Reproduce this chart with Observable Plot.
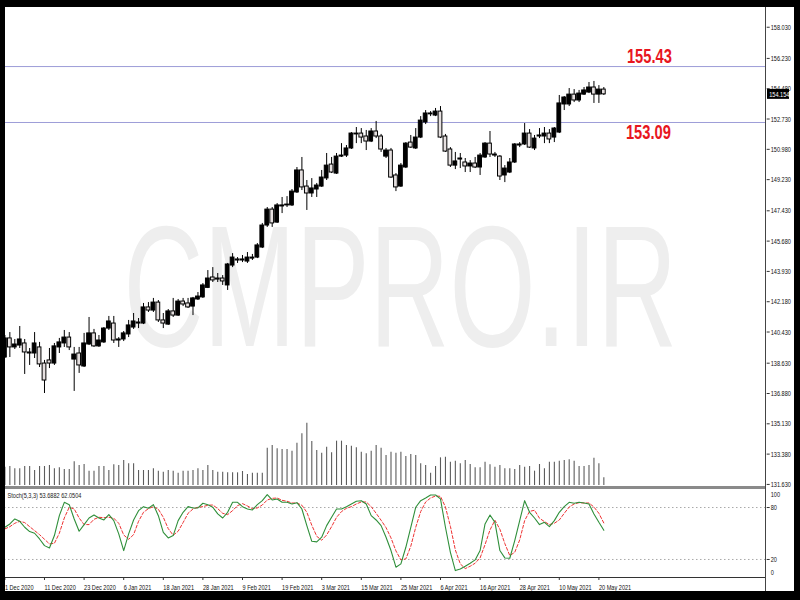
<!DOCTYPE html>
<html><head><meta charset="utf-8">
<script src="https://cdn.jsdelivr.net/npm/d3@7"></script>
<script src="https://cdn.jsdelivr.net/npm/@observablehq/plot@0.6"></script>
<style>
html,body{margin:0;padding:0;background:#000;}
#wrap{position:relative;width:800px;height:600px;background:#000;overflow:hidden;}
#inner{position:absolute;left:5px;top:7px;width:789px;height:584px;background:#fff;}
.layer{position:absolute;left:0;}
.chrome{position:absolute;}
</style></head><body>
<div id="wrap"><div id="inner"></div></div>
<script>
// ---- data (daily candles, 1 Dec 2020 .. 21 May 2021) ----
const open = [138.96,140.06,139.54,139.65,139.77,139.25,139.19,139.54,138.61,138.79,
138.61,139.54,139.77,140.11,138.84,139.19,138.44,139.71,140.35,139.60,
139.83,140.63,140.92,139.94,140.00,140.29,140.69,140.92,140.92,141.85,
141.67,142.13,141.10,140.86,141.62,141.38,142.19,142.08,141.90,142.31,
142.43,142.98,143.58,143.52,143.52,143.12,144.27,144.62,144.56,144.50,
144.67,144.73,145.31,146.58,147.50,146.75,147.68,147.74,147.74,148.49,
149.76,148.83,148.43,148.66,148.83,149.30,150.10,149.58,150.56,150.62,
151.03,151.84,151.89,151.72,151.43,152.01,151.72,150.56,150.91,149.47,
148.83,149.93,151.37,151.03,151.66,152.53,153.00,152.93,153.16,151.72,
150.97,150.04,150.39,150.22,149.99,150.16,149.93,150.51,151.31,150.62,
150.56,149.47,149.64,150.22,151.20,151.26,151.89,151.03,151.72,151.72,
151.89,151.66,151.95,153.57,153.57,154.14,153.80,154.14,154.26,154.55,
154.14,154.43];
const high = [140.23,140.40,140.00,140.75,140.00,139.48,140.40,139.83,138.79,139.48,
139.77,140.06,140.52,140.40,139.54,139.54,140.35,141.27,140.58,140.23,
140.69,141.33,141.33,140.11,140.46,141.10,141.50,141.21,142.08,142.13,
142.37,142.25,141.50,141.73,142.37,142.31,142.37,142.37,142.43,142.71,
143.23,143.98,144.15,143.81,143.69,144.39,144.96,144.73,144.85,145.02,
144.91,145.54,146.70,147.62,147.62,147.85,148.20,148.25,148.66,149.93,
150.51,149.18,149.29,149.01,149.76,150.74,150.51,150.74,151.31,151.20,
151.95,152.24,152.18,152.07,152.18,152.59,151.84,151.03,151.03,149.58,
150.16,151.37,151.78,152.18,152.87,153.22,153.16,153.34,153.45,151.84,
151.08,150.80,150.74,150.45,150.33,150.51,150.74,151.37,152.01,150.80,
150.62,150.04,150.45,151.31,151.37,152.47,152.12,151.78,152.18,152.24,
152.12,152.24,154.09,154.03,154.49,154.43,154.38,154.55,154.84,154.90,
154.66,154.55];
const low = [138.90,138.96,139.42,139.48,137.98,138.50,138.90,138.38,136.88,138.32,
138.50,139.19,139.54,139.36,137.00,138.04,138.38,139.65,139.54,139.54,
139.77,140.52,139.77,139.54,139.88,140.11,140.58,140.63,140.86,141.56,
141.56,140.98,140.63,140.81,141.27,141.33,141.90,141.79,141.38,142.25,
142.37,142.94,143.29,143.29,143.12,142.83,144.15,144.39,144.44,144.39,
144.56,144.67,145.25,146.47,146.47,146.70,147.27,147.62,147.68,148.43,
148.60,147.45,148.20,148.20,148.78,149.18,149.58,149.53,150.51,150.51,
150.97,151.31,151.31,150.91,151.37,151.60,150.80,150.45,149.30,148.54,
148.78,149.87,151.03,150.97,151.60,152.41,152.87,152.87,151.60,150.80,
149.93,149.81,149.87,149.64,149.64,149.87,149.47,150.45,150.51,150.51,
149.18,149.06,149.58,150.16,151.08,151.20,151.03,150.91,151.60,151.31,
151.31,151.37,151.89,153.22,153.45,153.68,153.68,154.09,154.20,153.63,
153.63,154.09];
const close = [140.06,139.54,139.71,140.00,139.25,139.19,139.77,138.56,137.63,138.61,
139.60,139.83,140.11,139.54,139.13,138.50,139.77,140.35,139.60,139.94,
140.63,141.04,139.94,140.00,140.35,140.81,141.04,140.98,141.85,141.67,
142.13,141.10,140.92,141.62,141.38,142.19,142.02,141.85,142.37,142.48,
143.12,143.52,143.41,143.46,143.35,144.33,144.73,144.56,144.62,144.73,
144.73,145.43,146.58,147.50,146.70,147.74,147.74,147.79,148.54,149.76,
148.78,148.43,148.72,148.89,149.35,150.04,149.64,150.56,150.62,151.03,
151.89,151.89,151.66,151.43,152.01,151.72,150.97,150.91,149.35,148.78,
150.04,151.31,151.08,151.66,152.64,153.05,153.05,153.16,151.66,150.85,
150.04,150.28,150.45,149.99,150.16,149.93,150.62,151.31,150.68,150.68,
149.41,149.87,150.22,151.26,151.26,151.89,151.08,151.60,151.78,151.89,
151.55,152.18,153.63,153.97,154.14,153.80,154.20,154.38,154.55,154.14,
154.43,154.154];
const volume = [1833,1900,1667,1667,1900,1900,1500,1900,1900,2000,
1667,1767,1600,1600,2367,2000,2100,1433,1433,1900,
1900,1500,2067,2000,2500,2167,2167,1500,1500,1500,
1667,1433,1333,1500,1433,1233,1433,1433,1500,1667,
1500,2000,1500,1333,1333,1267,1267,1267,1400,1100,
1233,1233,1233,3733,4000,3667,3600,3600,3433,4233,
5167,6233,4400,3500,3233,3833,3267,4433,4433,4000,
3933,3767,3333,3167,3433,4000,3733,3000,3333,3233,
3333,2900,3100,3000,2167,2000,1233,1900,2767,2833,
2333,2433,2167,2500,2100,1767,1767,2333,2067,1833,
2000,1667,1667,1600,2000,1833,1900,1433,2100,1667,
2333,2333,2433,2500,2567,2433,1900,1900,2000,2733,
2167,767];
const stochK = [57.2,61.0,66.8,64.1,57.2,52.2,50.3,43.7,36.0,33.3,
47.6,70.6,86.0,83.3,66.8,52.6,60.3,67.9,71.4,67.9,
65.6,71.8,64.9,49.5,30.3,49.5,65.6,76.4,81.0,79.1,
83.3,70.6,51.4,44.9,47.6,64.9,74.5,81.0,79.5,79.5,
84.9,83.3,80.3,72.6,67.9,74.5,86.0,86.0,81.0,78.3,
77.2,83.3,87.9,94.9,88.7,89.9,86.0,86.0,84.1,85.6,
78.3,59.1,41.0,40.3,45.7,59.1,68.7,78.3,78.3,81.0,
84.1,87.2,87.9,84.1,70.6,65.6,59.1,45.7,30.3,11.1,
14.9,34.1,57.2,80.3,87.9,91.0,94.5,94.5,89.9,57.2,
28.3,7.2,9.1,12.2,15.7,19.5,30.3,61.0,71.4,62.9,
30.3,21.8,21.4,41.8,64.9,87.9,74.5,67.9,60.3,62.9,
57.9,64.9,74.5,81.0,86.0,84.9,86.0,85.2,84.1,72.6,
62.9,53.6882];
const stochD = [55.3,57.9,61.8,64.1,62.6,57.9,53.3,48.7,43.3,38.0,
38.7,50.3,67.9,80.3,78.3,67.9,60.3,60.3,66.4,68.7,
68.3,68.7,67.6,61.8,48.3,43.3,48.7,64.1,74.5,78.7,
81.0,78.0,68.7,55.6,48.0,52.6,62.6,73.3,78.3,80.3,
81.0,82.6,82.9,78.7,73.3,71.8,76.4,82.2,84.5,81.8,
78.7,79.5,82.9,88.7,90.6,91.0,88.3,87.2,85.2,85.2,
82.6,74.5,59.5,46.8,42.2,48.3,57.9,68.7,75.3,79.1,
81.0,84.1,86.4,86.4,81.0,73.3,65.3,56.8,44.9,29.9,
19.5,20.7,35.3,57.2,75.3,86.4,91.0,93.3,92.9,80.6,
58.3,31.0,14.9,9.5,12.2,15.7,21.8,37.2,54.1,65.3,
54.9,38.3,24.5,28.3,42.6,64.9,75.6,76.8,67.6,63.7,
60.3,61.8,65.6,73.3,80.6,84.1,85.6,85.2,85.2,80.6,
73.3,62.0504];
const priceTicks = [158.03,156.23,154.48,152.73,150.98,149.23,147.43,145.68,143.93,142.18,140.43,138.63,136.88,135.13,133.38,131.63];
const dateTickIndex = [0,8,16,24,32,40,48,56,64,72,80,88,96,104,112,120];
const dateTickLabels = ["1 Dec 2020","11 Dec 2020","23 Dec 2020","6 Jan 2021","18 Jan 2021","28 Jan 2021","9 Feb 2021","19 Feb 2021","3 Mar 2021","15 Mar 2021","25 Mar 2021","6 Apr 2021","16 Apr 2021","28 Apr 2021","10 May 2021","20 May 2021"];
const levelPrices = [155.76, 152.53];
const levelLabels = ["155.43", "153.09"];
const levelLabelPrices = [156.37, 151.95];
const levelLabelIndex = [130.2, 130.0];
const stochLevels = [20, 80];
const lastPrice = 154.154;
const stochLabel = "Stoch(5,3,3) 53.6882 62.0504";
const watermark = "CMPRO.IR";

// ---- layout ----
const FONT = "Liberation Sans, Arial, sans-serif";
const xDomain = [-0.889, 153.8];
const MR = 34.3;
const candles = open.map((o, i) => ({i, o, h: high[i], l: low[i], c: close[i], up: close[i] >= o}));

function squeeze(svg) {
  svg.querySelectorAll("text").forEach(t => {
    const s = t.textContent === watermark ? 0.64 : 0.7;
    const x = +(t.getAttribute("x") || 0);
    const tr = t.getAttribute("transform") || "";
    t.setAttribute("transform", `${tr} translate(${x},0) scale(${s},1) translate(${-x},0)`);
  });
}
function place(el, top) {
  el.classList.add("layer");
  el.style.top = top + "px";
  document.getElementById("wrap").appendChild(el);
}
const baseStyle = {background: "transparent", overflow: "visible", fontFamily: FONT, fontSize: "8px", color: "#111"};

// volume
const vol = Plot.plot({
  width: 800, height: 70, marginTop: 0, marginBottom: 0, marginLeft: 0, marginRight: MR,
  style: baseStyle,
  x: {domain: xDomain, axis: null},
  y: {domain: [0, 7000], axis: null},
  marks: [
    Plot.ruleX(volume, {x: (d, i) => i, y1: 0, y2: d => d, stroke: "#5c5c5c", strokeWidth: 1.1})
  ]
});
place(vol, 415);

// main price panel
const main = Plot.plot({
  width: 800, height: 479, marginTop: 0, marginBottom: 0, marginLeft: 0, marginRight: MR,
  style: baseStyle,
  color: {type: "identity"},
  x: {domain: xDomain, axis: null},
  y: {domain: [131.51, 159.17], axis: null},
  marks: [
    Plot.text([watermark], {frameAnchor: "middle", dx: 17, dy: 44, fontSize: 173, fill: "#eeeeee", fontFamily: FONT}),
    Plot.ruleY(levelPrices, {stroke: "#9d9dd8", strokeWidth: 1}),
    Plot.ruleX(candles, {x: "i", y1: "l", y2: "h", stroke: "#000", strokeWidth: 1}),
    Plot.rect(candles, {x1: d => d.i - 0.38, x2: d => d.i + 0.38, y1: "o", y2: "c", fill: d => d.up ? "#000" : "#e6e0e0", stroke: "#000", strokeWidth: 1}),
    Plot.axisY({anchor: "right", ticks: priceTicks, tickFormat: d => d.toFixed(3), tickSize: 3, tickPadding: 1.5, fontSize: 8, stroke: "#333"}),
    Plot.rect([lastPrice], {y1: d => d, y2: d => d, insetTop: -5, insetBottom: -5, insetLeft: 767, insetRight: -23.3, fill: "#000"}),
    Plot.text([lastPrice], {y: d => d, text: d => d.toFixed(3), frameAnchor: "right", dx: 3, textAnchor: "start", fill: "#fff", fontSize: 8}),
    Plot.text(levelLabels, {x: (d, i) => levelLabelIndex[i], y: (d, i) => levelLabelPrices[i], text: d => d, fill: "#e8161e", fontWeight: "bold", fontSize: 21, fontFamily: FONT})
  ]
});
squeeze(main);
place(main, 7);

// stochastic panel
const stoch = Plot.plot({
  width: 800, height: 102, marginTop: 0, marginBottom: 14, marginLeft: 0, marginRight: MR,
  style: baseStyle,
  x: {domain: xDomain, axis: null},
  y: {domain: [-0.8, 100.8], axis: null},
  marks: [
    Plot.ruleY(stochLevels, {stroke: "#a9a9a9", strokeDasharray: "1.5,2.5"}),
    Plot.line(stochD, {x: (d, i) => i, y: d => d, stroke: "#ee3333", strokeDasharray: "3,2", strokeWidth: 1}),
    Plot.line(stochK, {x: (d, i) => i, y: d => d, stroke: "#2f8f3a", strokeWidth: 1.1}),
    Plot.text([stochLabel], {frameAnchor: "top-left", dx: 7, dy: 3, fill: "#222", fontSize: 8}),
    Plot.axisY({anchor: "right", ticks: [20, 80], tickSize: 3, tickPadding: 1.5, fontSize: 8, stroke: "#333"}),
    Plot.axisY({anchor: "right", ticks: [100], tickSize: 0, tickPadding: 4.5, dy: 4, fontSize: 8}),
    Plot.axisY({anchor: "right", ticks: [0], tickSize: 0, tickPadding: 4.5, dy: -4, fontSize: 8}),
    Plot.axisX({anchor: "bottom", ticks: dateTickIndex, tickFormat: d => dateTickLabels[dateTickIndex.indexOf(d)], textAnchor: "start", tickSize: 3, tickPadding: 3.5, fontSize: 8, stroke: "#333"})
  ]
});
squeeze(stoch);
place(stoch, 489);

// chart chrome: separators, axis line, black frame
const wrap = document.getElementById("wrap");
function box(l, t, w, h, c) {
  const d = document.createElement("div");
  d.className = "chrome";
  Object.assign(d.style, {left: l + "px", top: t + "px", width: w + "px", height: h + "px", background: c});
  wrap.appendChild(d);
}
box(5, 486, 761, 3, "#8a8a8a");
box(5, 577, 761, 1, "#333");
box(765, 7, 1, 584, "#444");
box(0, 0, 800, 7, "#000");
box(0, 0, 5, 600, "#000");
box(794, 0, 6, 600, "#000");
box(0, 591, 800, 9, "#000");
</script>
</body></html>
